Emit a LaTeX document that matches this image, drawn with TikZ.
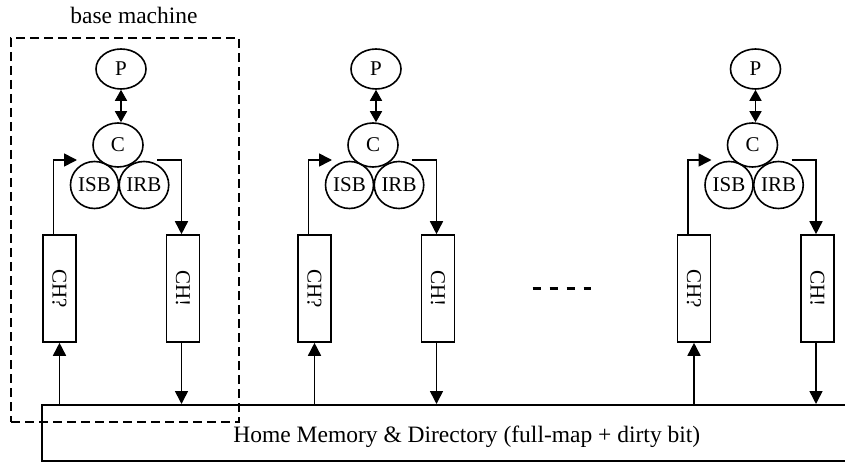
\documentclass[tikz,border=0pt]{standalone}
\usepackage{fontspec}
\setmainfont{Liberation Serif}
\usetikzlibrary{arrows.meta,shapes.geometric}
\begin{document}
\begin{tikzpicture}[x=1pt, y=-1pt, line width=1.6pt,
  headed/.style={-{Triangle[length=13pt,width=13pt]}},
  twoheaded/.style={{Triangle[length=11pt,width=12pt]}-{Triangle[length=11pt,width=12pt]}},
  unit/.style={draw, ellipse, inner sep=0pt, font=\fontsize{21}{25}\selectfont},
  chan/.style={draw, rectangle, minimum width=33pt, minimum height=107pt,
               inner sep=0pt, font=\fontsize{21}{25}\selectfont},
  caption/.style={font=\fontsize{23.5}{28}\selectfont, inner sep=0pt}]
\clip (0,0) rectangle (845,462);

% shared home memory (runs off the right edge)
\node[draw, caption, anchor=north west, minimum width=850pt, minimum height=56pt,
      text height=22pt, text depth=2.6pt] (mem) at (41,404)
     {Home Memory \& Directory (full-map + dirty bit)};

% one base machine, outlined
\node[draw, line width=1.3pt, dash pattern=on 9pt off 5pt, minimum width=228pt,
      minimum height=384pt, inner sep=0pt] (basebox) at (125,230) {};
\node[caption] (bm) at (134,15.5) {base machine};

% processing nodes
\foreach \i/\cx in {1/118, 2/373, 3/752.5} {
  \node[unit, minimum width=50pt, minimum height=40pt] (p\i) at (\cx+3,69) {P};
  \node[unit, minimum width=50pt, minimum height=44pt] (c\i) at (\cx,145) {C};
  \node[unit, minimum width=48pt, minimum height=47pt] (isb\i) at (\cx-23.5,185) {ISB};
  \node[unit, minimum width=49pt, minimum height=47pt] (irb\i) at (\cx+26,185) {IRB};
  \node[chan] (chq\i) at (\cx-58.5,288.5) {\rotatebox{-90}{CH?}};
  \node[chan] (che\i) at (\cx+65,288.5) {\rotatebox{-90}{CH!}};
  \coordinate (inl\i) at (\cx-41,160);
  \coordinate (outr\i) at (\cx+39,160);
  \draw[twoheaded] (p\i.south) -- (p\i.south |- c\i.north);
  \draw[headed] ([xshift=-6pt]chq\i.north) |- (inl\i);
  \draw[headed] (outr\i) -| ([xshift=-1.5pt]che\i.north);
  \draw[headed] (mem.north -| chq\i) -- (chq\i.south);
  \draw[headed] ([xshift=-1.5pt]che\i.south) -- ([xshift=-1.5pt]mem.north -| che\i);
}

% ellipsis between machines
\draw[line width=3pt, dash pattern=on 8pt off 9pt] (532.5,288.3) -- (591,288.3);
\end{tikzpicture}
\end{document}
